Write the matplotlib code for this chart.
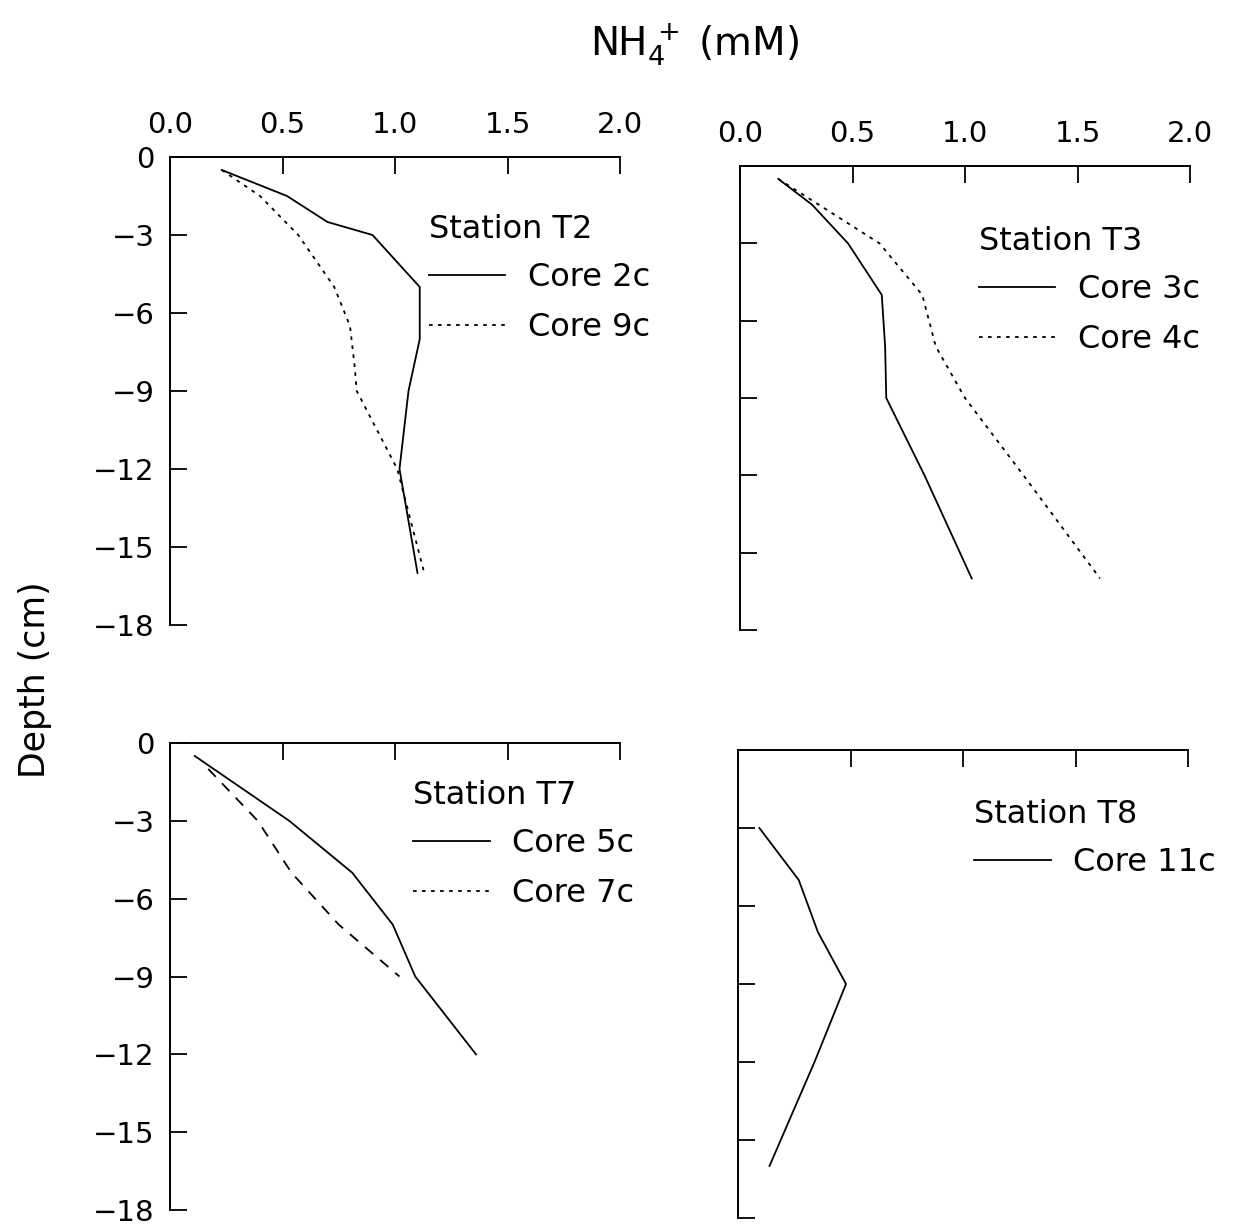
import numpy as np
import matplotlib
matplotlib.use("Agg")
import matplotlib.pyplot as plt
from matplotlib.lines import Line2D

# Station T2
t2_depth_2c = [0.5, 1.5, 2.5, 3, 5, 7, 9, 12, 16]
t2_nh4_2c = [0.23, 0.52, 0.70, 0.90, 1.11, 1.11, 1.06, 1.02, 1.10]
t2_depth_9c = [0.5, 1.5, 3, 5, 6.5, 8, 9, 12, 16]
t2_nh4_9c = [0.23, 0.40, 0.57, 0.73, 0.80, 0.82, 0.83, 1.01, 1.13]

# Station T3
t3_depth_3c = [0.5, 1.5, 3, 5, 7, 9, 12, 16]
t3_nh4_3c = [0.17, 0.32, 0.48, 0.63, 0.645, 0.65, 0.82, 1.03]
t3_depth_4c = [0.5, 1.5, 3, 5, 7, 9, 12, 16]
t3_nh4_4c = [0.17, 0.35, 0.62, 0.81, 0.87, 1.00, 1.26, 1.60]

# Station T7
t7_depth_5c = [0.5, 3, 5, 7, 9, 12]
t7_nh4_5c = [0.11, 0.53, 0.81, 0.99, 1.09, 1.36]
t7_depth_7c = [1, 3, 5, 7, 9]
t7_nh4_7c = [0.17, 0.39, 0.54, 0.75, 1.02]

# Station T8
t8_depth_11c = [3, 5, 7, 9, 12, 16]
t8_nh4_11c = [0.095, 0.27, 0.355, 0.48, 0.34, 0.14]

xticks = [0.0, 0.5, 1.0, 1.5, 2.0]
yticks = [0, -3, -6, -9, -12, -15, -18]

DOT = (0, (2, 3))
DASH = (0, (6, 5))

W, H = 1244, 1226
fig = plt.figure(figsize=(W / 100, H / 100), dpi=100)

def px_axes(left, top, right, bottom):
    return fig.add_axes([left / W, 1 - bottom / H, (right - left) / W, (bottom - top) / H])

def style(ax, xlabels, ylabels):
    ax.set_xlim(0, 2.0)
    ax.set_ylim(-18, 0)
    for s in ['right', 'bottom']:
        ax.spines[s].set_visible(False)
    for s in ['left', 'top']:
        ax.spines[s].set_linewidth(1.4)
    ax.xaxis.tick_top()
    ax.set_xticks(xticks)
    ax.set_yticks(yticks)
    ax.set_xticklabels(['%.1f' % v for v in xticks] if xlabels else [])
    ax.set_yticklabels([str(v).replace('-', '\u2212') for v in yticks] if ylabels else [])
    ax.tick_params(axis='both', direction='in', length=12, width=1.3, labelsize=21)
    ax.tick_params(axis='x', pad=13)
    ax.tick_params(axis='y', pad=11)

def add_legend(ax, title, entries, anchor):
    handles = [Line2D([], [], color='black', lw=1.3, linestyle=ls) for ls, _ in entries]
    leg = ax.legend(handles, [lab for _, lab in entries], title=title, loc='upper left',
                    bbox_to_anchor=anchor, frameon=False, fontsize=23, title_fontsize=23,
                    handlelength=2.4, handletextpad=0.7, labelspacing=0.6, borderpad=0,
                    borderaxespad=0)
    leg._legend_box.align = 'left'
    leg._legend_box.sep = 12

ax1 = px_axes(170, 157, 620, 625)
ax1.plot(t2_nh4_2c, [-d for d in t2_depth_2c], color='black', lw=1.3)
ax1.plot(t2_nh4_9c, [-d for d in t2_depth_9c], color='black', lw=1.3, linestyle=DOT)
style(ax1, True, True)
add_legend(ax1, 'Station T2', [('-', 'Core 2c'), (DOT, 'Core 9c')], (0.575, 0.878))

ax2 = px_axes(740, 166, 1190, 630)
ax2.plot(t3_nh4_3c, [-d for d in t3_depth_3c], color='black', lw=1.3)
ax2.plot(t3_nh4_4c, [-d for d in t3_depth_4c], color='black', lw=1.3, linestyle=DOT)
style(ax2, True, False)
add_legend(ax2, 'Station T3', [('-', 'Core 3c'), (DOT, 'Core 4c')], (0.53, 0.87))

ax3 = px_axes(170, 743, 620, 1210)
ax3.plot(t7_nh4_5c, [-d for d in t7_depth_5c], color='black', lw=1.3)
ax3.plot(t7_nh4_7c, [-d for d in t7_depth_7c], color='black', lw=1.3, linestyle=DASH)
style(ax3, False, True)
add_legend(ax3, 'Station T7', [('-', 'Core 5c'), (DOT, 'Core 7c')], (0.54, 0.92))

ax4 = px_axes(738, 750, 1188, 1218)
ax4.plot(t8_nh4_11c, [-d for d in t8_depth_11c], color='black', lw=1.3)
style(ax4, False, False)
add_legend(ax4, 'Station T8', [('-', 'Core 11c')], (0.525, 0.895))

fig.text(694 / W, 1 - 45 / H, r'NH$_4^{\,+}$ (mM)', ha='center', va='center', fontsize=28)
fig.text(35 / W, 1 - 680 / H, 'Depth (cm)', ha='center', va='center', rotation=90, fontsize=25)

fig.savefig('out.png', dpi=100)
